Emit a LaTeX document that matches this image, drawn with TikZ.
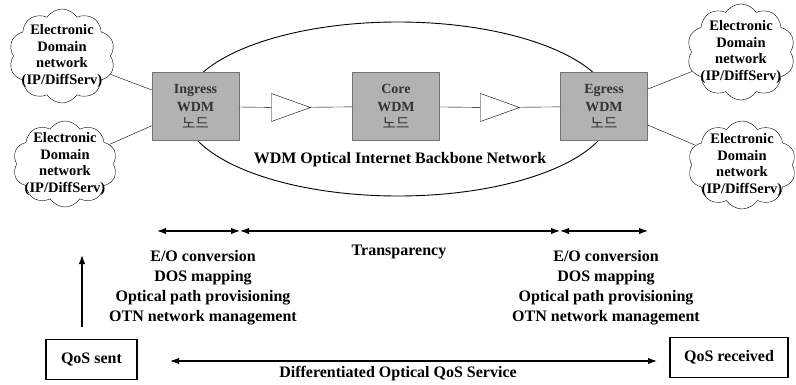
\documentclass[tikz,border=0pt]{standalone}
\usepackage{fontspec}
\setmainfont{Liberation Serif}
\newfontfamily\krfont{Noto Sans CJK KR}
\usepackage{tikz}
\usetikzlibrary{positioning}
\usetikzlibrary{arrows.meta,shapes}
\usetikzlibrary{shapes.geometric,shapes.symbols}

\begin{document}
\begin{tikzpicture}[x=1pt, y=-1pt,
  wdmbox/.style={draw=black!55, fill=black!30, text=black!80, minimum width=87pt, minimum height=68pt, align=center, inner sep=0pt, font=\fontsize{14}{17.5}\selectfont\bfseries},
  amp/.style={draw, isosceles triangle, isosceles triangle stretches, minimum width=28pt, minimum height=39pt, inner sep=0pt},
  ednet/.style={draw, cloud, cloud puffs=10, cloud puff arc=115, cloud ignores aspect},
  edtext/.style={align=center, inner sep=0pt, font=\fontsize{14.5}{16.7}\selectfont\bfseries},
  info/.style={align=center, inner sep=0pt, font=\fontsize{16}{20}\selectfont\bfseries},
  qos/.style={draw, line width=1.2pt, minimum height=40pt, font=\fontsize{16}{20}\selectfont\bfseries},
  dbl/.style={{Latex[length=9pt,width=6.5pt]}-{Latex[length=9pt,width=6.5pt]}, line width=1.3pt}]

 \useasboundingbox (0,0) rectangle (796,385);

	%backbone
 \node[draw, ellipse, minimum width=430pt, minimum height=174pt, line width=0.9pt] (bb) at (398,109) {};
 \node[info] (bbname) at (400,160) {WDM Optical Internet Backbone Network};

	%wdm nodes
    \foreach \x/\name/\txt in {195.5/ing/Ingress, 396/core/Core, 604/egr/Egress}{
         \node[wdmbox] (\name) at (\x,106.5) {\txt\\WDM\\{\krfont\mdseries\fontsize{14.5}{15}\selectfont 노드}};
    }

	%amplifiers
 \node[amp, anchor=apex] (amp1) at (311,107.5) {};
 \node[amp, anchor=apex] (amp2) at (520,107.5) {};
    \foreach \a/\b in {ing/amp1, amp1/core, core/amp2, amp2/egr}{
         \draw (\a) -- (\b);
    }

	%electronic domains
    \foreach \x/\y/\w/\h/\name in {62/56/106/94/dl1, 65/164/104/86/dl2, 741/52/108/96/dr1, 742/165/108/88/dr2}{
         \node[ednet, minimum width=\w pt, minimum height=\h pt] (\name) at (\x,\y) {};
         \node[edtext] (\name t) at (\x,\y) {Electronic\\Domain\\network\\(IP/DiffServ)};
    }
 \draw (dl1) -- (ing);
 \draw (dl2) -- (ing);
 \draw (egr) -- (dr1);
 \draw (egr) -- (dr2);

	%spans
 \coordinate (s0) at (157,231);
 \coordinate (s1) at (240,231);
 \coordinate (s2) at (560,231);
 \coordinate (s3) at (648,231);
 \draw[dbl] (s0) -- (s1);
 \draw[dbl] (s1) -- (s2);
 \draw[dbl] (s2) -- (s3);

 \node[info] (transp) at (399,252) {Transparency};
 \node[info] (funcL) at (203,288) {E/O conversion\\DOS mapping\\Optical path provisioning\\OTN network management};
 \node[info] (funcR) at (606,288) {E/O conversion\\DOS mapping\\Optical path provisioning\\OTN network management};

	%qos
 \node[qos, minimum width=91pt] (qsent) at (91.5,359.5) {QoS sent};
 \node[qos, minimum width=118pt] (qrecv) at (729,357.5) {QoS received};
 \coordinate (upfoot) at (82,327);
 \coordinate (uptop) at (82,255);
 \draw[-{Latex[length=9pt,width=6.5pt]}, line width=1.2pt] (upfoot) -- (uptop);
 \coordinate (d0) at (170,361);
 \coordinate (d1) at (657,361);
 \draw[dbl] (d0) -- (d1);
 \node[info] (dqs) at (398,374) {Differentiated Optical QoS Service};

\end{tikzpicture}
\end{document}
